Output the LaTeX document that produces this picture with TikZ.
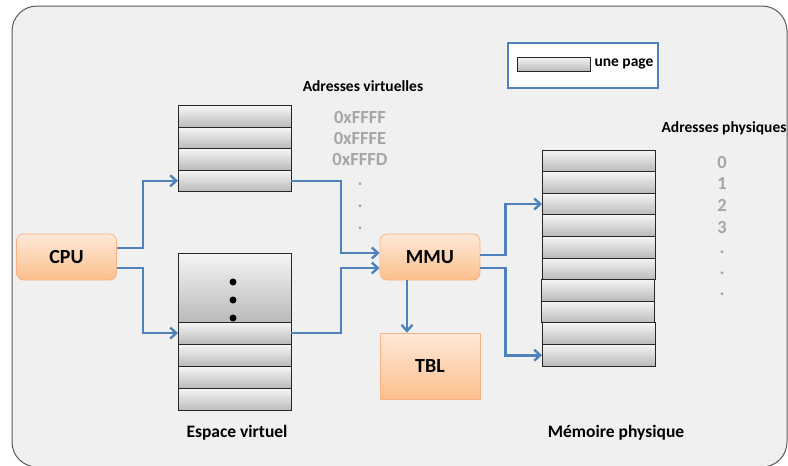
\documentclass[tikz,border=0pt]{standalone}
\usepackage{fontspec}
\setmainfont{Carlito}
\usetikzlibrary{positioning,arrows.meta}
\definecolor{bgcol}{HTML}{F0F0F0}
\definecolor{framecol}{HTML}{5A5A5A}
\definecolor{linkblue}{HTML}{4F81BD}
\definecolor{orangeline}{HTML}{F9B286}
\definecolor{orangetop}{HTML}{FEE9D9}
\definecolor{orangebot}{HTML}{FBBF8C}
\definecolor{addrgray}{HTML}{A6A6A6}
\tikzset{
    pagecell/.style ={
        draw=black!85,
        line width=1pt,
        top color=black!4,
        bottom color=black!27,
        minimum width=113pt,
        minimum height=21.4pt,
        inner sep=0pt,
        outer sep=0pt
    },
    unit/.style ={
        draw=orangeline,
        line width=0.8pt,
        top color=orangetop,
        bottom color=orangebot,
        rounded corners=7pt,
        minimum width=100pt,
        minimum height=46pt,
        font=\bfseries\fontsize{20}{24}\selectfont
    },
    cache/.style ={
        draw=orangeline,
        line width=0.8pt,
        top color=orangetop,
        bottom color=orangebot,
        minimum width=100pt,
        minimum height=66pt,
        font=\bfseries\fontsize{20}{24}\selectfont
    },
    title/.style ={
        font=\bfseries\fontsize{15.5}{18}\selectfont
    },
    caption/.style ={
        font=\bfseries\fontsize{17.5}{20}\selectfont
    },
    addr/.style ={
        text=addrgray,
        font=\bfseries\fontsize{18.5}{22}\selectfont,
        inner sep=0pt
    },
    link/.style ={
        draw=linkblue,
        line width=2.6pt,
        -{Straight Barb[length=6pt,width=11pt,line width=2.4pt]}
    }
}

\begin{document}
\begin{tikzpicture}[x=1pt,y=-1pt]
    \clip (0,0) rectangle (788,466);
    \draw[draw=framecol,fill=bgcol,line width=1pt,rounded corners=25pt] (12,6) rectangle (787,467);

    % legende
    \node[draw=linkblue,line width=1.8pt,fill=white,minimum width=150pt,minimum height=45pt] (legend) at (583,65.5) {};
    \node[pagecell,minimum width=73pt,minimum height=14pt] (sample) at (553.5,64) {};
    \node[title,right=1pt of sample] (unepage) {une page};

    % espace virtuel, haut
    \node[title] (vtitle) at (363,86) {Adresses virtuelles};
    \node[pagecell] (v1) at (234.5,116.6) {};
    \node[pagecell,below=0pt of v1] (v2) {};
    \node[pagecell,below=0pt of v2] (v3) {};
    \node[pagecell,below=0pt of v3] (v4) {};
    \node[addr] (a1) at (360,117) {0xFFFF};
    \node[addr] (a2) at (360,138) {0xFFFE};
    \node[addr] (a3) at (360,159) {0xFFFD};
    \node[addr] (d1) at (360,184) {.};
    \node[addr] (d2) at (360,206) {.};
    \node[addr] (d3) at (360,228) {.};

    % espace virtuel, bas
    \node[pagecell,minimum height=69pt] (vtop) at (234.5,287.5) {};
    \node[pagecell,minimum height=22.2pt,below=0pt of vtop] (b1) {};
    \node[pagecell,minimum height=22.2pt,below=0pt of b1] (b2) {};
    \node[pagecell,minimum height=22.2pt,below=0pt of b2] (b3) {};
    \node[pagecell,minimum height=22.2pt,below=0pt of b3] (b4) {};
    \fill (233,282) circle (3.5pt) (233,300) circle (3.5pt) (233,318) circle (3.5pt);
    \node[caption] (vcap) at (237,433) {Espace virtuel};

    % unites
    \node[unit] (cpu) at (66.5,257) {CPU};
    \node[unit] (mmu) at (430,257) {MMU};
    \node[cache] (tbl) at (430,366) {TBL};

    % memoire physique
    \node[title] (ptitle) at (724,128) {Adresses physiques};
    \node[pagecell,minimum height=21.6pt] (p1) at (598.5,160.8) {};
    \node[pagecell,minimum height=21.6pt,below=0pt of p1] (p2) {};
    \node[pagecell,minimum height=21.6pt,below=0pt of p2] (p3) {};
    \node[pagecell,minimum height=21.6pt,below=0pt of p3] (p4) {};
    \node[pagecell,minimum height=21.6pt,below=0pt of p4] (p5) {};
    \node[pagecell,minimum height=21.6pt,below=0pt of p5] (p6) {};
    \node[pagecell,minimum height=21.6pt,below=0pt of p6,xshift=-1pt] (p7) {};
    \node[pagecell,minimum height=21.6pt,below=0pt of p7] (p8) {};
    \node[pagecell,minimum height=21.6pt,below=0pt of p8,xshift=1pt] (p9) {};
    \node[pagecell,minimum height=21.6pt,below=0pt of p9] (p10) {};
    \node[addr] (n0) at (722,162) {0};
    \node[addr] (n1) at (722,183) {1};
    \node[addr] (n2) at (722,205) {2};
    \node[addr] (n3) at (722,227) {3};
    \node[addr] (e1) at (722,252) {.};
    \node[addr] (e2) at (722,273) {.};
    \node[addr] (e3) at (722,294) {.};
    \node[caption] (pcap) at (616,433) {Mémoire physique};

    % liaisons
    \draw[link] ([yshift=9pt]cpu.east) -- ++(26,0) |- (v4.west);
    \draw[link] ([yshift=-11pt]cpu.east) -- ++(26,0) |- (b1.west);
    \draw[link] (v4.east) -- ++(50,0) |- ([yshift=4pt]mmu.west);
    \draw[link] (b1.east) -- ++(50,0) |- ([yshift=-11pt]mmu.west);
    \draw[link] ([yshift=2pt]mmu.east) -- ++(25,0) |- (p3.west);
    \draw[link] ([yshift=-11pt]mmu.east) -- ++(25,0) |- (p10.west);
    \draw[link] ([xshift=-23pt]mmu.south) -- ([xshift=-23pt]tbl.north);
\end{tikzpicture}
\end{document}
